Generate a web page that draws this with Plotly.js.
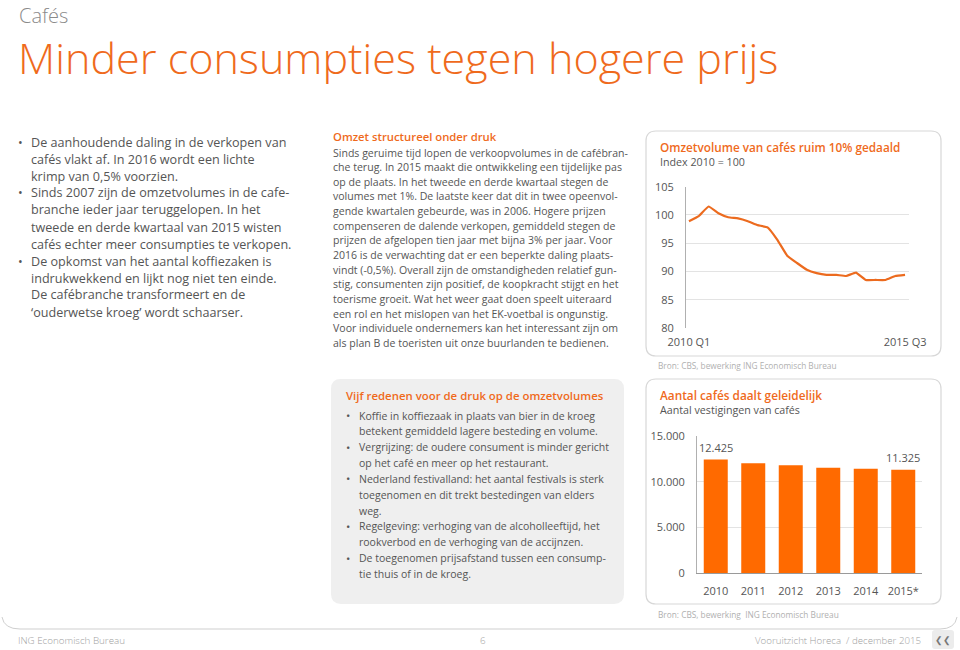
<!DOCTYPE html>
<html><head><meta charset="utf-8">
<script src="https://cdn.plot.ly/plotly-3.0.1.min.js"></script>
<style>html,body{margin:0;padding:0;background:#fff}#chart{width:960px;height:650px}</style>
</head><body><div id="chart"></div>
<script>
// ---- DATA ----
const quarters = ["2010 Q1","2010 Q2","2010 Q3","2010 Q4","2011 Q1","2011 Q2","2011 Q3","2011 Q4",
  "2012 Q1","2012 Q2","2012 Q3","2012 Q4","2013 Q1","2013 Q2","2013 Q3","2013 Q4",
  "2014 Q1","2014 Q2","2014 Q3","2014 Q4","2015 Q1","2015 Q2","2015 Q3"];
const omzetIndex = [98.9,99.8,101.5,100.3,99.6,99.4,98.9,98.2,97.8,95.6,92.8,91.5,90.3,89.7,89.4,89.4,89.2,89.8,88.5,88.5,88.5,89.2,89.4];
const years = ["2010","2011","2012","2013","2014","2015*"];
const vestigingen = [12425,12025,11800,11525,11425,11325];
const lineTicks = [80,85,90,95,100,105];
const barTicks = [0,5000,10000,15000];

const leftLines = ["De aanhoudende daling in de verkopen van","cafés vlakt af. In 2016 wordt een lichte","krimp van 0,5% voorzien.",
  "Sinds 2007 zijn de omzetvolumes in de cafe-","branche ieder jaar teruggelopen. In het","tweede en derde kwartaal van 2015 wisten",
  "cafés echter meer consumpties te verkopen.","De opkomst van het aantal koffiezaken is","indrukwekkend en lijkt nog niet ten einde.",
  "De cafébranche transformeert en de","‘ouderwetse kroeg’ wordt schaarser."];
const leftBullets = [0,3,7];
const midLines = ["Sinds geruime tijd lopen de verkoopvolumes in de cafébran-","che terug. In 2015 maakt die ontwikkeling een tijdelijke pas",
  "op de plaats. In het tweede en derde kwartaal stegen de","volumes met 1%. De laatste keer dat dit in twee opeenvol-",
  "gende kwartalen gebeurde, was in 2006. Hogere prijzen","compenseren de dalende verkopen, gemiddeld stegen de",
  "prijzen de afgelopen tien jaar met bijna 3% per jaar. Voor","2016 is de verwachting dat er een beperkte daling plaats-",
  "vindt (-0,5%). Overall zijn de omstandigheden relatief gun-","stig, consumenten zijn positief, de koopkracht stijgt en het",
  "toerisme groeit. Wat het weer gaat doen speelt uiteraard","een rol en het mislopen van het EK-voetbal is ongunstig.",
  "Voor individuele ondernemers kan het interessant zijn om","als plan B de toeristen uit onze buurlanden te bedienen."];
const boxLines = ["Koffie in koffiezaak in plaats van bier in de kroeg","betekent gemiddeld lagere besteding en volume.",
  "Vergrijzing: de oudere consument is minder gericht","op het café en meer op het restaurant.",
  "Nederland festivalland: het aantal festivals is sterk","toegenomen en dit trekt bestedingen van elders","weg.",
  "Regelgeving: verhoging van de alcoholleeftijd, het","rookverbod en de verhoging van de accijnzen.",
  "De toegenomen prijsafstand tussen een consump-","tie thuis of in de kroeg."];
const boxBullets = [0,2,4,7,9];

// ---- helpers ----
const W = 960, H = 650;
const X = x => x / W, Y = y => 1 - y / H;
const ORANGE = "#ef6a1c", BAR = "#ff6a00", TXT = "#555555", FONT = "Open Sans";
const fmt = v => String(v).replace(/\B(?=(\d{3})+(?!\d))/g, ".");

const ann = [];
function txt(x, y, s, size, color, opts) {
  opts = opts || {};
  ann.push(Object.assign({xref:"paper", yref:"paper", x:X(x), y:Y(y), text:s, showarrow:false,
    xanchor:"left", yanchor:"middle",
    font:{family:FONT, size:size, color:color, weight: opts.weight || 400}}, opts.extra || {}));
}
function rrect(x0, y0, x1, y1, r) {
  const p = (x, y) => X(x).toFixed(5) + "," + Y(y).toFixed(5);
  return "M" + p(x0 + r, y0) + " L" + p(x1 - r, y0) + " Q" + p(x1, y0) + " " + p(x1, y0 + r) +
    " L" + p(x1, y1 - r) + " Q" + p(x1, y1) + " " + p(x1 - r, y1) +
    " L" + p(x0 + r, y1) + " Q" + p(x0, y1) + " " + p(x0, y1 - r) +
    " L" + p(x0, y0 + r) + " Q" + p(x0, y0) + " " + p(x0 + r, y0) + " Z";
}

// header
txt(17, 0, "Cafés", 20, "#8a8a8a", {weight:300, extra:{yanchor:"top"}});
txt(16, 57, "Minder consumpties tegen hogere prijs", 43.1, ORANGE, {weight:300});

// left column
leftLines.forEach((s, i) => {
  const y = 142 + i * 17.0;
  if (leftBullets.includes(i)) txt(16, y, "•", 12.5, TXT);
  txt(29, y, s, 12.6, TXT);
});

// middle column
txt(331, 136.5, "Omzet structureel onder druk", 11.3, ORANGE, {weight:600});
midLines.forEach((s, i) => txt(331, 152.5 + i * 14.65, s, 10.55, TXT));

// grey box
txt(344, 395.5, "Vijf redenen voor de druk op de omzetvolumes", 11.4, ORANGE, {weight:600});
boxLines.forEach((s, i) => {
  const y = 415.5 + i * 15.85;
  if (boxBullets.includes(i)) txt(344, y, "•", 11.5, TXT);
  txt(357, y, s, 10.5, TXT);
});

// chart titles
txt(658, 147, "Omzetvolume van cafés ruim 10% gedaald", 11.75, ORANGE, {weight:600});
txt(658, 162, "Index 2010 = 100", 10.7, TXT);
txt(658, 395, "Aantal cafés daalt geleidelijk", 11.8, ORANGE, {weight:600});
txt(658, 409.5, "Aantal vestigingen van cafés", 10.7, TXT);
txt(656, 366, "Bron: CBS, bewerking ING Economisch Bureau", 8.3, "#b0b0b0");
txt(656, 614.5, "Bron: CBS, bewerking  ING Economisch Bureau", 8.3, "#b0b0b0");

// footer
txt(16, 640, "ING Economisch Bureau", 9.8, "#a0a0a0", {weight:300});
txt(478, 640, "6", 9.8, "#a0a0a0", {weight:300});
txt(923, 640, "Vooruitzicht Horeca  / december 2015", 9.7, "#a0a0a0", {weight:300, extra:{xanchor:"right"}});
txt(943, 639.5, "❮❮", 9, "#777", {extra:{xanchor:"center"}});

// bar value labels (first and last), positioned by category index
[0, years.length - 1].forEach(i => {
  ann.push({xref:"x2", yref:"y2", x:i, y:vestigingen[i], text:fmt(vestigingen[i]), showarrow:false,
    xanchor:"center", yanchor:"bottom", yshift:3, font:{family:FONT, size:11, color:TXT}});
});

const P = {xref:"paper", yref:"paper"};
const shapes = [
  Object.assign({type:"path", path:rrect(331, 379, 624, 604, 10), fillcolor:"#efefef", line:{width:0}, layer:"below"}, P),
  Object.assign({type:"path", path:rrect(646, 131, 941, 356, 10), fillcolor:"rgba(0,0,0,0)", line:{color:"#d8d8d8", width:1.2}}, P),
  Object.assign({type:"path", path:rrect(646, 379, 941, 604, 10), fillcolor:"rgba(0,0,0,0)", line:{color:"#d8d8d8", width:1.2}}, P),
  Object.assign({type:"path", path:"M" + X(2) + "," + Y(617) + " Q" + X(4) + "," + Y(629) + " " + X(20) + "," + Y(629) +
     " L" + X(940) + "," + Y(629) + " Q" + X(955) + "," + Y(629) + " " + X(957) + "," + Y(617),
     line:{color:"#cfcfcf", width:1}}, P),
  Object.assign({type:"path", path:rrect(932, 630, 954, 649, 3), fillcolor:"#ececec", line:{width:0}, layer:"below"}, P)
];

const traces = [
  {type:"scatter", mode:"lines", x:quarters, y:omzetIndex, xaxis:"x", yaxis:"y",
   line:{color:"#ec6b1f", width:2.2, shape:"spline", smoothing:0.3}, hoverinfo:"skip"},
  {type:"bar", x:years, y:vestigingen, xaxis:"x2", yaxis:"y2", marker:{color:BAR}, hoverinfo:"skip"}
];

const tickFont = {family:FONT, size:11, color:TXT};
const layout = {
  width:W, height:H, margin:{l:0, r:0, t:0, b:0}, paper_bgcolor:"#fff", plot_bgcolor:"rgba(0,0,0,0)",
  showlegend:false, separators:",.", bargap:0.36,
  xaxis:{domain:[X(686), X(909)], anchor:"y", type:"category", range:[-0.3, 22.4], autorange:false,
    tickvals:[quarters[0], quarters[quarters.length-1]], showgrid:false, zeroline:false, showline:false,
    ticks:"", tickfont:tickFont, ticklabelstandoff:6},
  yaxis:{domain:[Y(328), Y(186.7)], anchor:"x", range:[80, 105], autorange:false, tickvals:lineTicks, showgrid:true,
    gridcolor:"#e3e3e3", gridwidth:1, zeroline:false, showline:true, linecolor:"#b0b0b0", linewidth:1,
    ticks:"", tickfont:tickFont, ticklabelstandoff:9},
  xaxis2:{domain:[X(697), X(922)], anchor:"y2", type:"category", range:[-0.5, 5.5], autorange:false,
    showgrid:false, zeroline:false, showline:true, linecolor:"#9a9a9a", linewidth:1, ticks:"",
    tickfont:tickFont, ticklabelstandoff:7},
  yaxis2:{domain:[Y(573.3), Y(436)], anchor:"x2", range:[0, 15000], autorange:false, tickvals:barTicks, tickformat:",d",
    showgrid:true, gridcolor:"#e3e3e3", zeroline:false, showline:true, linecolor:"#b0b0b0", linewidth:1,
    ticks:"", tickfont:tickFont, ticklabelstandoff:9},
  annotations:ann, shapes:shapes
};
Plotly.newPlot("chart", traces, layout, {staticPlot:true, displayModeBar:false});
</script></body></html>
